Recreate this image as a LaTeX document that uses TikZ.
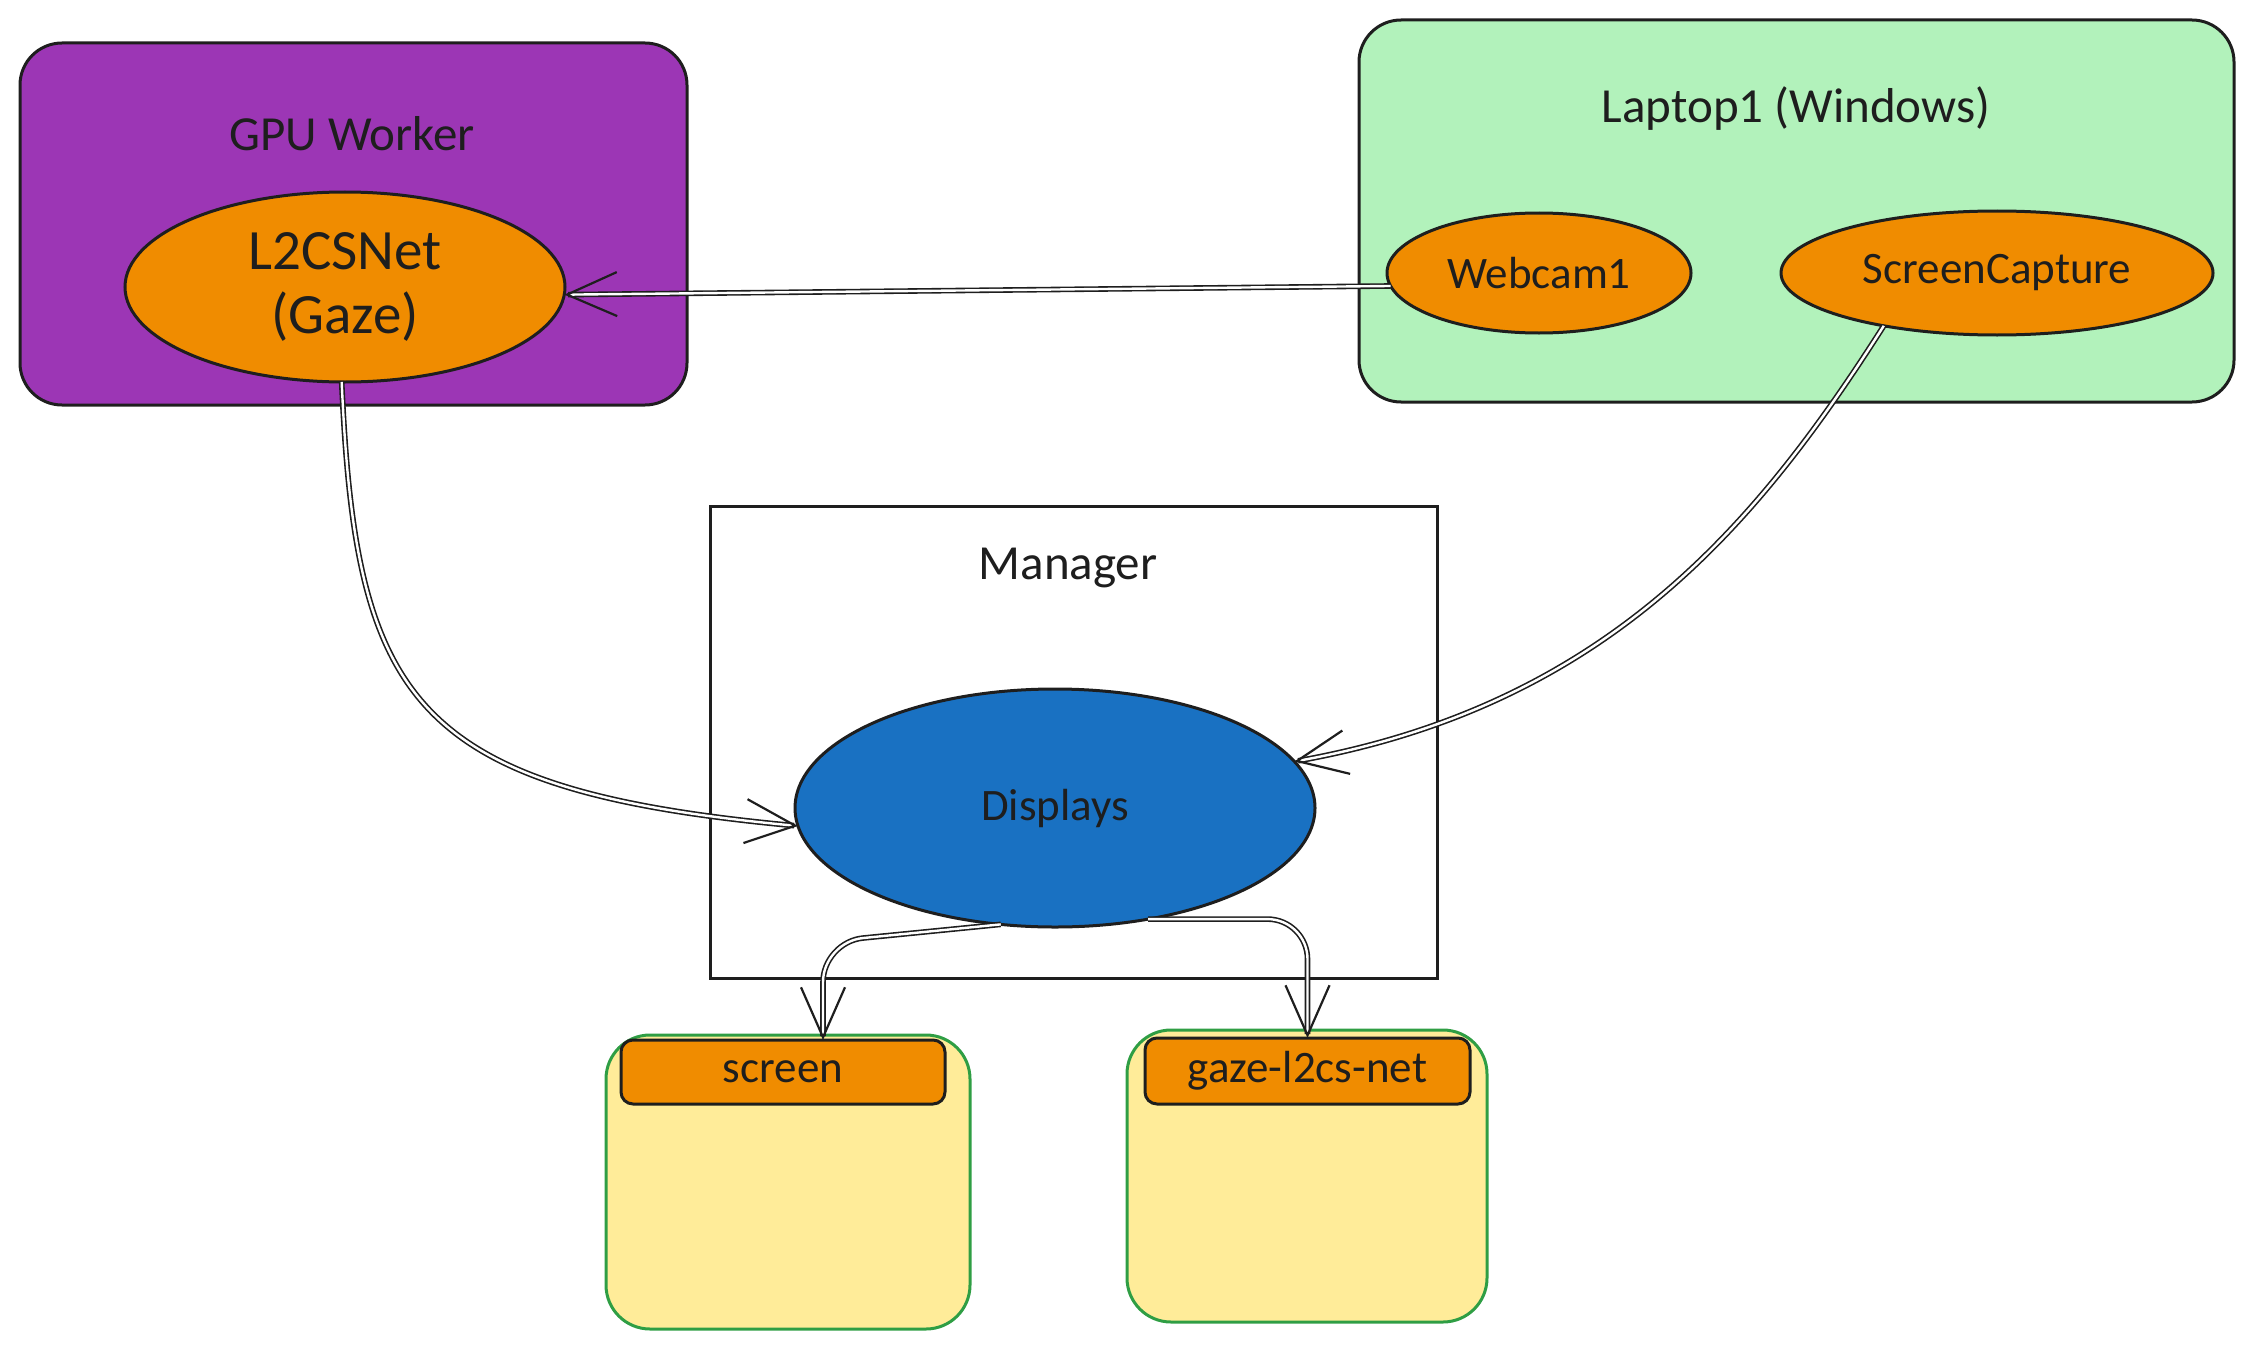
\documentclass[tikz,border=0pt]{standalone}
\usepackage{fontspec}
\setmainfont{Carlito}
\usetikzlibrary{shapes.geometric,arrows.meta,calc}
\definecolor{ink}{HTML}{1E1E1E}
\definecolor{grape}{HTML}{9C36B5}
\definecolor{mint}{HTML}{B2F2BB}
\definecolor{amber}{HTML}{F08C00}
\definecolor{ocean}{HTML}{1971C2}
\definecolor{butter}{HTML}{FFEC99}
\definecolor{leaf}{HTML}{2F9E44}
\begin{document}
\begin{tikzpicture}[x=1pt,y=-1pt,
  every node/.style={inner sep=0pt,outer sep=0pt,text=ink},
  outline/.style={draw=ink,line width=3pt},
  groupbox/.style={outline,rectangle,rounded corners=42pt},
  blob/.style={outline,ellipse},
  tab/.style={outline,rectangle,rounded corners=12pt,fill=amber},
  sheet/.style={draw=leaf,line width=3pt,rectangle,rounded corners=44pt,fill=butter},
  titletext/.style={font=\fontsize{49}{58}\selectfont},
  bigtext/.style={font=\fontsize{57}{64}\selectfont,align=center},
  midtext/.style={font=\fontsize{45}{52}\selectfont},
  link/.style={draw=ink,line width=1.6pt,double=white,double distance=2.4pt,
    -{Straight Barb[length=50pt,width=44pt,line width=2.2pt]}},
  ]
\useasboundingbox (0,0) rectangle (2253,1351);

% containers
\node[groupbox,fill=grape,minimum width=667pt,minimum height=362pt] (gpu) at (353.5,224) {};
\node[groupbox,fill=mint,minimum width=875pt,minimum height=382pt] (laptop) at (1796.5,211) {};
\node[outline,rectangle,minimum width=727pt,minimum height=472pt] (manager) at (1073.5,742) {};

\node[titletext] (gpulabel) at (352,134) {GPU Worker};
\node[titletext] (laptoplabel) at (1796,109) {Laptop1 (Windows)};
\node[titletext] (managerlabel) at (1068,568) {Manager};

% services
\node[blob,fill=amber,minimum width=440pt,minimum height=190pt,bigtext] (l2cs) at (345,287) {L2CSNet\\(Gaze)};
\node[blob,fill=amber,minimum width=304pt,minimum height=120pt,midtext] (webcam) at (1539,273) {Webcam1};
\node[blob,fill=amber,minimum width=432pt,minimum height=124pt,midtext] (capture) at (1997,273) {ScreenCapture};
\node[blob,fill=ocean,minimum width=520pt,minimum height=238pt,midtext] (displays) at (1055,808) {Displays};

% display windows
\node[sheet,minimum width=364pt,minimum height=294pt] (screenbox) at (788,1182) {};
\node[tab,minimum width=324pt,minimum height=64pt,midtext] (screenhdr) at (783,1072) {screen};
\node[sheet,minimum width=360pt,minimum height=292pt] (gazebox) at (1307,1176) {};
\node[tab,minimum width=325pt,minimum height=66pt,midtext] (gazehdr) at (1307.5,1071) {gaze-l2cs-net};

% data flow
\draw[link] (webcam.185) -- (l2cs.-2.5);
\draw[link] (l2cs.268) .. controls (356,700) and (410,790) .. (displays.184);
\draw[link] (capture.205) .. controls (1760,520) and (1610,705) .. (displays.11);
\draw[link,rounded corners=40pt] (displays.245) -- (823,942) -- ([xshift=40pt]screenhdr.north);
\draw[link,rounded corners=40pt] (displays.-50) -- (displays.-50 -| gazehdr.north) -- (gazehdr.north);
\end{tikzpicture}
\end{document}
